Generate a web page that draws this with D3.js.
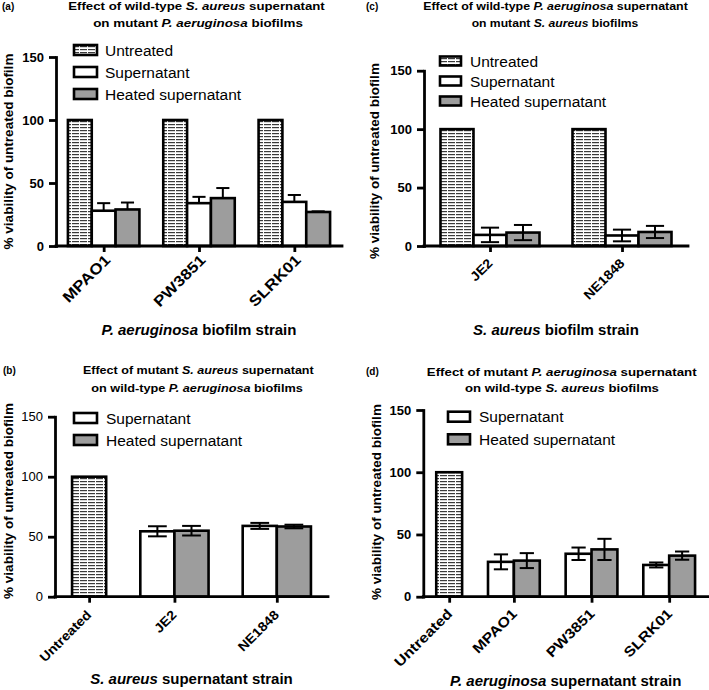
<!DOCTYPE html>
<html><head><meta charset="utf-8">
<script src="https://cdn.jsdelivr.net/npm/d3@7"></script>
<style>
body{margin:0;background:#fff;}
svg text{font-family:"Liberation Sans",Arial,Helvetica,sans-serif;fill:#000;}
</style></head><body>
<svg id="chart" width="709" height="690"></svg>
<script>
// ---------- data ----------
const seriesNames = ["Untreated", "Supernatant", "Heated supernatant"];
const yTicks = [0, 50, 100, 150];

// (a) wild-type S. aureus supernatant on mutant P. aeruginosa biofilms
const aStrains = ["MPAO1", "PW3851", "SLRK01"];
const aUntreated = [100, 100, 100];
const aSupernatant = [28, 34, 35];
const aSupernatantErr = [6, 5, 5.5];
const aHeated = [29, 38, 27];
const aHeatedErr = [5.5, 8, 0.5];

// (c) wild-type P. aeruginosa supernatant on mutant S. aureus biofilms
const cStrains = ["JE2", "NE1848"];
const cUntreated = [100, 100];
const cSupernatant = [9.5, 9];
const cSupernatantErr = [6.2, 5];
const cHeated = [11.5, 12];
const cHeatedErr = [6.5, 5.2];

// (b) mutant S. aureus supernatant on wild-type P. aeruginosa biofilms
const bStrains = ["Untreated", "JE2", "NE1848"];
const bUntreated = [100, null, null];
const bSupernatant = [null, 54.5, 59];
const bSupernatantErr = [null, 4.2, 2.5];
const bHeated = [null, 55, 58.5];
const bHeatedErr = [null, 4, 1.5];

// (d) mutant P. aeruginosa supernatant on wild-type S. aureus biofilms
const dStrains = ["Untreated", "MPAO1", "PW3851", "SLRK01"];
const dUntreated = [100, null, null, null];
const dSupernatant = [null, 28, 34.5, 25.5];
const dSupernatantErr = [null, 6, 5, 2];
const dHeated = [null, 29, 38, 33];
const dHeatedErr = [null, 6, 8.5, 3.3];

// ---------- panels ----------
const panels = [
  {tag: "(a)", strains: aStrains, values: [aUntreated, aSupernatant, aHeated],
   errs: [null, aSupernatantErr, aHeatedErr], errMode: "upper",
   title: [[["Effect of wild-type ", 0], ["S. aureus", 1], [" supernatant", 0]],
           [["on mutant ", 0], ["P. aeruginosa", 1], [" biofilms", 0]]],
   xTitle: [["P. aeruginosa", 1], [" biofilm strain", 0]],
   legend: [0, 1, 2],
   lay: {x0: 56, x1: 342, yTop: 57, yBot: 246, titleX: [196.5, 198], titleW: [257, 210], titleY: [10, 27], tagPos: [2, 10],
         yLab: [13, 151.5], leg: {x: 74, y: [50, 72, 94], sw: 23, sh: 10, tx: 105},
         xTitleY: 335, xLabFont: 15, xLabStretch: 1.15, xLabOff: [7, 15], tickBold: true}},
  {tag: "(c)", strains: cStrains, values: [cUntreated, cSupernatant, cHeated],
   errs: [null, cSupernatantErr, cHeatedErr], errMode: "both",
   title: [[["Effect of wild-type ", 0], ["P. aeruginosa", 1], [" supernatant", 0]],
           [["on mutant ", 0], ["S. aureus", 1], [" biofilms", 0]]],
   xTitle: [["S. aureus", 1], [" biofilm strain", 0]],
   legend: [0, 1, 2],
   lay: {x0: 424, x1: 688, yTop: 70.7, yBot: 246, titleX: [555.5, 555], titleW: [265, 167], titleY: [10, 27], tagPos: [366, 10],
         yLab: [379, 161], leg: {x: 440, y: [61, 81, 101], sw: 21, sh: 9, tx: 470},
         xTitleY: 335, xLabFont: 13, xLabStretch: 1.1, xLabOff: [3, 18], tickBold: true}},
  {tag: "(b)", strains: bStrains, values: [bUntreated, bSupernatant, bHeated],
   errs: [null, bSupernatantErr, bHeatedErr], errMode: "both",
   title: [[["Effect of mutant ", 0], ["S. aureus", 1], [" supernatant", 0]],
           [["on wild-type ", 0], ["P. aeruginosa", 1], [" biofilms", 0]]],
   xTitle: [["S. aureus", 1], [" supernatant strain", 0]],
   legend: [1, 2],
   lay: {x0: 55, x1: 328, yTop: 416.7, yBot: 596.7, titleX: [198.3, 197], titleW: [231, 212], titleY: [374.3, 391.5], tagPos: [3, 374],
         yLab: [12.5, 501], leg: {x: 74, y: [418, 440], sw: 23, sh: 10, tx: 106},
         xTitleY: 684, xLabFont: 13, xLabStretch: 1.1, xLabOff: [2.5, 19], tickBold: false}},
  {tag: "(d)", strains: dStrains, values: [dUntreated, dSupernatant, dHeated],
   errs: [null, dSupernatantErr, dHeatedErr], errMode: "both",
   title: [[["Effect of mutant ", 0], ["P. aeruginosa", 1], [" supernatant", 0]],
           [["on wild-type ", 0], ["S. aureus", 1], [" biofilms", 0]]],
   xTitle: [["P. aeruginosa", 1], [" supernatant strain", 0]],
   legend: [1, 2],
   lay: {x0: 423.3, x1: 708, yTop: 410, yBot: 596.7, titleX: [561.7, 562], titleW: [270, 194], titleY: [376, 391.7], tagPos: [366, 375],
         yLab: [381, 502], leg: {x: 448, y: [416.7, 439.3], sw: 22, sh: 10, tx: 479},
         xTitleY: 686, xLabFont: 14, xLabStretch: 1.15, xLabOff: [3.5, 18], tickBold: true}}
];

const svg = d3.select("#chart");
svg.append("rect").attr("width", 709).attr("height", 690).attr("fill", "#fff");

// hatch pattern for Untreated
const defs = svg.append("defs");
const pat = defs.append("pattern").attr("id", "hatch").attr("patternUnits", "userSpaceOnUse")
  .attr("width", 8).attr("height", 3);
pat.append("rect").attr("width", 8).attr("height", 3).attr("fill", "#fff");
pat.append("rect").attr("x", 0).attr("y", 1).attr("width", 7).attr("height", 1.2).attr("fill", "#3a3a3a");

const fills = ["url(#hatch)", "#ffffff", "#9d9d9d"];
const BAR_SW = 2.6, AXIS_SW = 2.8;

function addRich(sel, parts) {
  parts.forEach(([t, it]) => sel.append("tspan").text(t).attr("font-style", it ? "italic" : "normal"));
}

panels.forEach(p => {
  const L = p.lay;
  const g = svg.append("g");

  // slot layout: bars of each group, with one empty slot between groups
  const slots = [];
  const groupSlots = [];
  p.strains.forEach((s, i) => {
    if (i > 0) slots.push("gap" + i);
    const mine = [];
    p.values.forEach((arr, si) => {
      if (arr[i] != null) { const k = i + "|" + si; slots.push(k); mine.push(k); }
    });
    groupSlots.push(mine);
  });
  const xs = d3.scaleBand().domain(slots).range([L.x0, L.x1]).paddingInner(0).paddingOuter(0.5);
  const bw = xs.bandwidth();
  const groupPos = groupSlots.map(ks => d3.mean(ks, k => xs(k) + bw / 2));
  const xg = d3.scaleOrdinal().domain(p.strains).range(groupPos);
  const y = d3.scaleLinear().domain([0, 150]).range([L.yBot, L.yTop]);

  // bars
  const bars = [];
  p.strains.forEach((s, i) => p.values.forEach((arr, si) => {
    if (arr[i] != null) bars.push({key: i + "|" + si, v: arr[i], si, e: p.errs[si] ? p.errs[si][i] : null});
  }));
  g.selectAll("rect.bar").data(bars).join("rect").attr("class", "bar")
    .attr("x", d => xs(d.key)).attr("width", bw)
    .attr("y", d => y(d.v)).attr("height", d => y(0) - y(d.v))
    .attr("fill", d => fills[d.si]).attr("stroke", "#000").attr("stroke-width", BAR_SW);

  // error bars
  const eb = bars.filter(d => d.e != null && d.e > 0);
  const capW = bw * 0.55;
  eb.forEach(d => {
    const cx = xs(d.key) + bw / 2;
    const top = y(d.v + d.e);
    const bot = p.errMode === "both" ? y(d.v - d.e) : y(d.v);
    g.append("line").attr("x1", cx).attr("x2", cx).attr("y1", top).attr("y2", bot)
      .attr("stroke", "#000").attr("stroke-width", 2);
    g.append("line").attr("x1", cx - capW / 2).attr("x2", cx + capW / 2).attr("y1", top).attr("y2", top)
      .attr("stroke", "#000").attr("stroke-width", 2);
    if (p.errMode === "both")
      g.append("line").attr("x1", cx - capW / 2).attr("x2", cx + capW / 2).attr("y1", bot).attr("y2", bot)
        .attr("stroke", "#000").attr("stroke-width", 2);
  });

  // y axis
  const ya = g.append("g").attr("transform", `translate(${L.x0},0)`)
    .call(d3.axisLeft(y).tickValues(yTicks).tickSize(7).tickSizeOuter(0).tickPadding(5));
  ya.select(".domain").attr("stroke-width", AXIS_SW).attr("stroke-linecap", "square");
  ya.selectAll(".tick line").attr("stroke-width", AXIS_SW);
  ya.selectAll(".tick text").attr("font-size", 13).attr("font-weight", L.tickBold ? "bold" : "normal")
    .attr("font-family", "Liberation Sans, Arial, sans-serif");

  // x axis
  const xa = g.append("g").attr("transform", `translate(0,${L.yBot})`)
    .call(d3.axisBottom(xg).tickSize(6).tickSizeOuter(0).tickPadding(0));
  xa.select(".domain").remove();
  xa.append("line").attr("x1", L.x0).attr("x2", L.x1).attr("y1", 0).attr("y2", 0)
    .attr("stroke", "#000").attr("stroke-width", AXIS_SW).attr("stroke-linecap", "square");
  xa.selectAll(".tick line").attr("stroke-width", AXIS_SW);
  xa.selectAll(".tick text")
    .attr("font-size", L.xLabFont).attr("font-weight", "bold")
    .attr("font-family", "Liberation Sans, Arial, sans-serif")
    .attr("text-anchor", "end").attr("y", 0).attr("dy", 0)
    .attr("transform", `translate(${L.xLabOff[0]},${L.xLabOff[1]}) rotate(-45) scale(${L.xLabStretch},1)`);

  // titles (stretched horizontally to the reference width)
  L.titleY.forEach((ty, li) => {
    const t = g.append("text").attr("x", 0).attr("y", 0).attr("text-anchor", "middle")
      .attr("font-size", 11).attr("font-weight", "bold");
    addRich(t, p.title[li]);
    const w = t.node().getComputedTextLength();
    const s = w > 0 ? L.titleW[li] / w : 1;
    t.attr("transform", `translate(${L.titleX[li]},${ty}) scale(${s},1)`);
  });
  g.append("text").attr("x", L.tagPos[0]).attr("y", L.tagPos[1]).attr("font-size", 10)
    .attr("font-weight", "bold").text(p.tag);

  // y label
  g.append("text").attr("transform", `translate(${L.yLab[0]},${L.yLab[1]}) rotate(-90)`)
    .attr("text-anchor", "middle").attr("font-size", 13.5).attr("font-weight", "bold")
    .text("% viability of untreated biofilm");

  // x title
  const xt = g.append("text").attr("x", (L.x0 + L.x1) / 2).attr("y", L.xTitleY)
    .attr("text-anchor", "middle").attr("font-size", 15).attr("font-weight", "bold");
  addRich(xt, p.xTitle);

  // legend
  const lg = g.append("g");
  p.legend.forEach((si, k) => {
    const cy = L.leg.y[k];
    lg.append("rect").attr("x", L.leg.x).attr("y", cy - L.leg.sh / 2).attr("width", L.leg.sw)
      .attr("height", L.leg.sh).attr("fill", fills[si]).attr("stroke", "#000").attr("stroke-width", BAR_SW);
    lg.append("text").attr("x", L.leg.tx).attr("y", cy + 5.5).attr("font-size", 15.5).text(seriesNames[si]);
  });
});
</script>
</body></html>
